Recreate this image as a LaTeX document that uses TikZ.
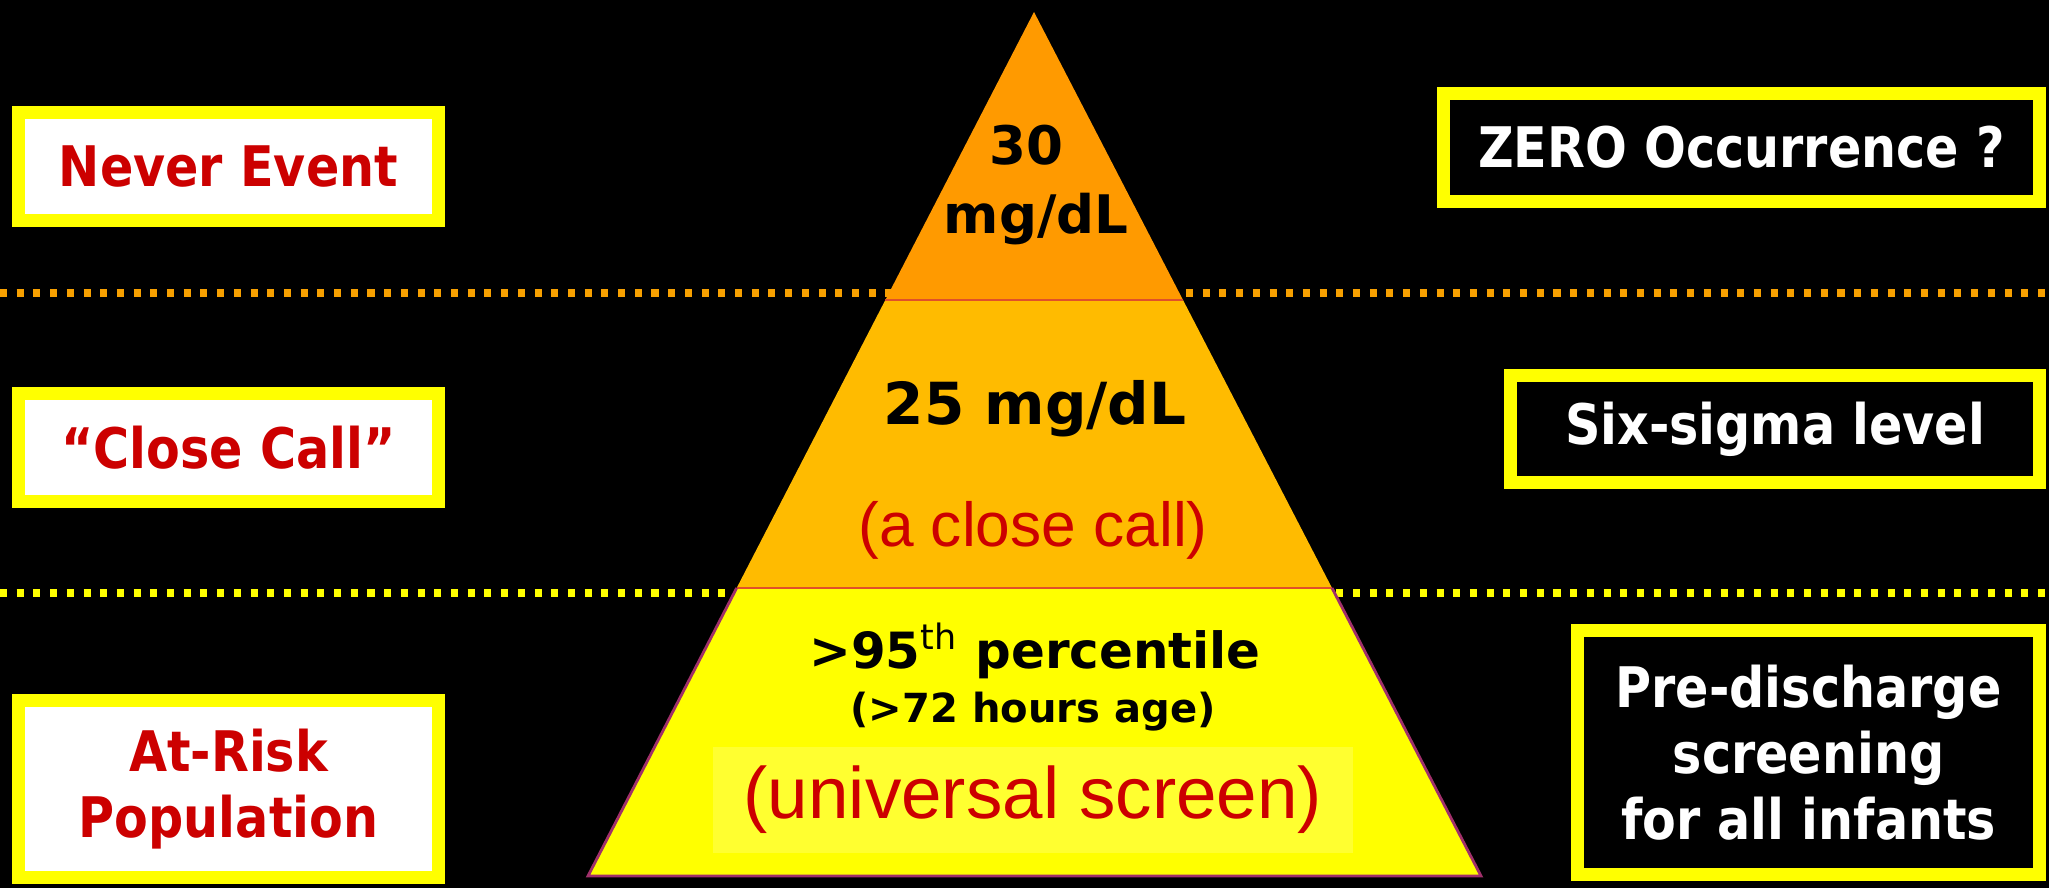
\documentclass[tikz,border=0pt]{standalone}
\usepackage{fontspec}
\setmainfont{Liberation Sans}
\newfontfamily\labelfont{DejaVu Sans}[FakeStretch=0.88]
\newfontfamily\pyrfont{DejaVu Sans}
\usepackage{xcolor}
\usepackage{tikz}
\usetikzlibrary{calc}
\definecolor{boxyellow}{HTML}{FFFF00}
\definecolor{labelred}{HTML}{CC0000}
\definecolor{toporange}{HTML}{FF9A00}
\definecolor{midorange}{HTML}{FFBB00}
\definecolor{baseyellow}{HTML}{FFFF00}
\definecolor{dotorange}{HTML}{F7A000}
\definecolor{edgepurple}{HTML}{A0306A}
\definecolor{splitred}{HTML}{E0502A}
\definecolor{patchyellow}{HTML}{FFFF30}
\tikzset{
  redlabel/.style={draw=boxyellow, line width=3.7pt, fill=white, text=labelred, align=center, inner sep=0pt, font=\labelfont\bfseries\fontsize{15.9}{18.8}\selectfont},
  darklabel/.style={draw=boxyellow, line width=3.7pt, fill=black, text=white, align=center, inner sep=0pt, font=\labelfont\bfseries\fontsize{15.9}{18.8}\selectfont},
  levelrule/.style={line width=2.1pt, dash pattern=on 2pt off 2.75pt},
  pyrtext/.style={text=black, inner sep=0pt, anchor=base, font=\pyrfont\bfseries\fontsize{#1}{#1}\selectfont},
  remark/.style={text=labelred, inner sep=0pt, font=\fontsize{#1}{#1}\selectfont}
}

\begin{document}
\begin{tikzpicture}[x=0.01cm, y=-0.01cm]
  \fill[black] (0,0) rectangle (2049,888);
  \useasboundingbox (0,0) rectangle (2049,888);

  % dotted level rules
  \draw[levelrule, dotorange] (0,293) -- (2049,293);
  \draw[levelrule, baseyellow] (0,593) -- (2049,593);

  % pyramid
  \coordinate (apex) at (1034,12);
  \coordinate (baseL) at (588,876);
  \coordinate (baseR) at (1481,876);
  \coordinate (upL) at ($(apex)!1/3!(baseL)$);
  \coordinate (upR) at ($(apex)!1/3!(baseR)$);
  \coordinate (lowL) at ($(apex)!2/3!(baseL)$);
  \coordinate (lowR) at ($(apex)!2/3!(baseR)$);
  \fill[toporange] (apex) -- (upL) -- (upR) -- cycle;
  \fill[midorange] (upL) -- (upR) -- (lowR) -- (lowL) -- cycle;
  \fill[baseyellow] (lowL) -- (lowR) -- (baseR) -- (baseL) -- cycle;
  \draw[splitred, line width=0.6pt] (upL) -- (upR) (lowL) -- (lowR);
  \draw[edgepurple, line width=0.8pt] (lowL) -- (baseL) -- (baseR) -- (lowR);

  \node[pyrtext=15.1] (thirty) at (1026,165) {30};
  \node[pyrtext=15.1] (thirtyunit) at (1036,233) {mg/dL};
  \node[pyrtext=16.5] (twentyfive) at (1035,424) {25 mg/dL};
  \node[remark=17.7, anchor=base] (closecall) at (1033,546) {(a close call)};
  \node[pyrtext=14.2] (percentile) at (1035,668) {>95\textsuperscript{\mdseries th} percentile};
  \node[pyrtext=11.4] (hours) at (1033,722) {(>72 hours age)};
  \node[remark=20.7, fill=patchyellow, minimum width=6.4cm, minimum height=1.06cm] (universal) at (1033,800) {(universal screen)};

  % left labels
  \node[redlabel, minimum width=4.19cm, minimum height=1.07cm] (never) at (228.5,166.5) {Never Event};
  \node[redlabel, minimum width=4.19cm, minimum height=1.07cm] (closelabel) at (228.5,447.5) {“Close Call”};
  \node[redlabel, minimum width=4.19cm, minimum height=1.76cm] (atrisk) at (228.5,789) {At-Risk\\Population};

  % right labels
  \node[darklabel, minimum width=5.95cm, minimum height=1.07cm] (zero) at (1741.5,147.5) {ZERO Occurrence ?};
  \node[darklabel, minimum width=5.28cm, minimum height=1.06cm] (sixsigma) at (1775,429) {Six-sigma level};
  \node[darklabel, minimum width=4.61cm, minimum height=2.43cm] (predischarge) at (1808.5,752.5) {Pre-discharge\\screening\\for all infants};
\end{tikzpicture}
\end{document}
